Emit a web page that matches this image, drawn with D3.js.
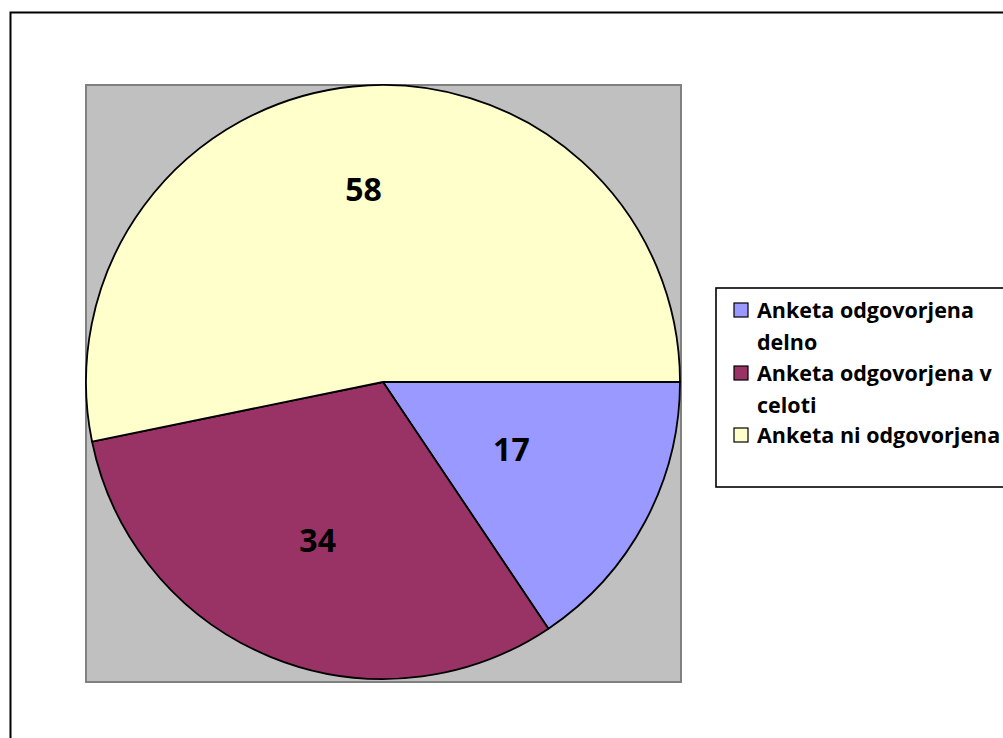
<!DOCTYPE html>
<html>
<head>
<meta charset="utf-8">
<script src="https://cdn.jsdelivr.net/npm/d3@7/dist/d3.min.js"></script>
<style>
  html, body { margin: 0; padding: 0; background: #fff; }
  svg { display: block; }
</style>
</head>
<body>
<script>
// Survey response breakdown
const categories = ["Anketa odgovorjena delno", "Anketa odgovorjena v celoti", "Anketa ni odgovorjena"];
const values = [17, 34, 58];
const colors = ["#9999FF", "#993366", "#FFFFCC"];
// legend text broken into lines as displayed
const legendLines = [["Anketa odgovorjena", "delno"], ["Anketa odgovorjena v", "celoti"], ["Anketa ni odgovorjena"]];

const W = 1003, H = 738;
const svg = d3.select("body").append("svg").attr("width", W).attr("height", H);

// chart frame (runs off the right and bottom edges)
svg.append("rect")
  .attr("x", 10.5).attr("y", 12.5).attr("width", W).attr("height", H)
  .attr("fill", "#fff").attr("stroke", "#000").attr("stroke-width", 2);

// plot area
svg.append("rect")
  .attr("x", 86).attr("y", 85).attr("width", 595).attr("height", 597)
  .attr("fill", "#C0C0C0").attr("stroke", "#808080").attr("stroke-width", 2);

const cx = 383, cy = 382, R = 297;

const pie = d3.pie().sort(null).value(d => d)
  .startAngle(Math.PI / 2).endAngle(Math.PI / 2 + 2 * Math.PI);
const arcs = pie(values);
const arc = d3.arc().innerRadius(0).outerRadius(R);

const g = svg.append("g").attr("transform", `translate(${cx},${cy})`);
g.selectAll("path.slice").data(arcs).join("path")
  .attr("class", "slice")
  .attr("d", arc)
  .attr("fill", (d, i) => colors[i])
  .attr("stroke", "#000").attr("stroke-width", 1.8).attr("stroke-linejoin", "round");

// value labels, placed along each slice's bisector
const labelFrac = [0.49, 0.58, 0.65];
g.selectAll("text.val").data(arcs).join("text")
  .attr("class", "val")
  .attr("transform", (d, i) => {
    const a = (d.startAngle + d.endAngle) / 2;
    const r = R * labelFrac[i];
    return `translate(${r * Math.sin(a)},${-r * Math.cos(a)})`;
  })
  .attr("text-anchor", "middle")
  .attr("dy", "0.34em")
  .attr("font-family", "'Open Sans', Lato, sans-serif")
  .attr("font-weight", "bold")
  .attr("font-size", 32)
  .attr("fill", "#000")
  .text(d => d.data);

// legend
const lg = svg.append("g");
lg.append("rect")
  .attr("x", 716).attr("y", 288).attr("width", 400).attr("height", 199)
  .attr("fill", "#fff").attr("stroke", "#000").attr("stroke-width", 1.6);

const baselines = [[318, 350], [381, 413], [443]];
categories.forEach((c, i) => {
  const b0 = baselines[i][0];
  lg.append("rect")
    .attr("x", 734).attr("y", b0 - 15).attr("width", 14).attr("height", 14)
    .attr("fill", colors[i]).attr("stroke", "#000").attr("stroke-width", 1.2);
  legendLines[i].forEach((line, j) => {
    lg.append("text")
      .attr("x", 757).attr("y", baselines[i][j])
      .attr("font-family", "'Open Sans', Lato, sans-serif")
      .attr("font-weight", "bold")
      .attr("font-size", 21.5)
      .attr("fill", "#000")
      .text(line);
  });
});
</script>
</body>
</html>
